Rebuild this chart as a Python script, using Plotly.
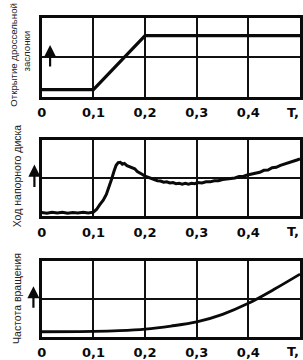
import plotly.graph_objects as go

# ---- data ----
tick_vals = [0, 0.1, 0.2, 0.3, 0.4]
tick_text = ["0", "0,1", "0,2", "0,3", "0,4"]
time_unit_label = "T,"

throttle_t = [0.0, 0.1, 0.2, 0.5]
throttle_y = [0.18, 0.18, 1.55, 1.55]

disk_t = [0.000, 0.010, 0.020, 0.030, 0.040, 0.050, 0.060, 0.070, 0.080, 0.090, 0.100,
          0.106, 0.112, 0.119, 0.125, 0.130, 0.135, 0.140, 0.144, 0.148, 0.152, 0.156,
          0.160, 0.165, 0.170, 0.175, 0.180, 0.185, 0.190, 0.195, 0.200, 0.206, 0.212,
          0.218, 0.224, 0.230, 0.236, 0.242, 0.248, 0.254, 0.260, 0.266, 0.272, 0.278,
          0.284, 0.290, 0.296, 0.302, 0.310, 0.318, 0.326, 0.334, 0.342, 0.350, 0.358,
          0.366, 0.374, 0.382, 0.390, 0.398, 0.406, 0.414, 0.422, 0.430, 0.438, 0.446,
          0.454, 0.462, 0.470, 0.478, 0.486, 0.494, 0.500]
disk_y = [0.10, 0.08, 0.11, 0.09, 0.11, 0.08, 0.10, 0.09, 0.11, 0.09, 0.11,
          0.18, 0.30, 0.42, 0.57, 0.75, 0.96, 1.18, 1.33, 1.40, 1.41, 1.36,
          1.38, 1.32, 1.30, 1.26, 1.24, 1.17, 1.14, 1.09, 1.05, 1.02, 0.98,
          0.97, 0.93, 0.92, 0.89, 0.90, 0.87, 0.88, 0.85, 0.86, 0.84, 0.86,
          0.84, 0.86, 0.85, 0.88, 0.87, 0.90, 0.90, 0.93, 0.93, 0.96, 0.97,
          0.99, 1.00, 1.04, 1.04, 1.08, 1.10, 1.14, 1.15, 1.20, 1.21, 1.27,
          1.28, 1.33, 1.36, 1.40, 1.42, 1.47, 1.50]

speed_t = [0.0, 0.1, 0.15, 0.2, 0.25, 0.3, 0.35, 0.4, 0.45, 0.5]
speed_y = [0.14, 0.15, 0.17, 0.21, 0.29, 0.40, 0.60, 0.89, 1.26, 1.66]

titles = [["Открытие дроссельной", "заслонки"], ["Ход напорного диска"], ["Частота вращения"]]

# ---- layout geometry ----
W, H = 303, 360
x_dom = [37.5 / W, 301 / W]
panels_px = [(18, 97), (140, 217), (262, 338)]
y_doms = [[1 - b / H, 1 - t / H] for t, b in panels_px]

fig = go.Figure()
series = [(throttle_t, throttle_y, "linear", 3.2),
          (disk_t, disk_y, "linear", 3.0),
          (speed_t, speed_y, "spline", 2.8)]
for i, (tx, ty, shp, lw) in enumerate(series):
    sfx = "" if i == 0 else str(i + 1)
    fig.add_trace(go.Scatter(x=tx, y=ty, mode="lines",
                             line=dict(color="#0a0a0a", width=lw, shape=shp),
                             xaxis="x" + sfx, yaxis="y" + sfx, showlegend=False))

tick_font = dict(family="DejaVu Sans", size=13, color="#0a0a0a", weight="bold")
title_sizes = [9.6, 10.5, 10.5]

for i in range(3):
    sfx = "" if i == 0 else str(i + 1)
    fig.layout["xaxis" + sfx] = dict(
        domain=x_dom, range=[0, 0.5], anchor="y" + sfx,
        tickvals=tick_vals, ticktext=tick_text, tickfont=tick_font,
        showgrid=True, gridcolor="#111", gridwidth=1.6,
        showline=True, linecolor="#0a0a0a", linewidth=2.6, mirror=True,
        ticks="", zeroline=False, ticklabelstandoff=2, fixedrange=True)
    fig.layout["yaxis" + sfx] = dict(
        domain=y_doms[i], range=[0, 2], anchor="x" + sfx,
        tickvals=[1], showticklabels=False,
        showgrid=True, gridcolor="#111", gridwidth=1.6,
        showline=True, linecolor="#0a0a0a", linewidth=2.6, mirror=True,
        ticks="", zeroline=False, fixedrange=True)

annotations = []
# "T," label at right end of each axis
label_y_px = [113, 232, 352]
for i in range(3):
    annotations.append(dict(text=time_unit_label, x=302 / W, y=1 - label_y_px[i] / H,
                            xref="paper", yref="paper", xanchor="right", yanchor="middle",
                            showarrow=False, font=tick_font))

# axis titles (rotated)
title_pos = [[(9, 55), (22, 52)], [(12, 176)], [(12, 299)]]
for k, (lines, poss) in enumerate(zip(titles, title_pos)):
    for txt, (px, py) in zip(lines, poss):
        annotations.append(dict(text=txt, x=px / W, y=1 - py / H, xref="paper", yref="paper",
                                xanchor="center", yanchor="middle", textangle=-90,
                                showarrow=False,
                                font=dict(family="Liberation Sans, Arial", size=title_sizes[k],
                                          color="#222")))

# upward arrows
arrows = [(46, 45, 68), (30, 165, 189), (29, 287, 310)]
for ax_px, tip, tail in arrows:
    annotations.append(dict(text="", x=ax_px / W, y=1 - tip / H, xref="paper", yref="paper",
                            ax=0, ay=tail - tip, axref="pixel", ayref="pixel",
                            showarrow=True, arrowhead=2, arrowsize=1.1, arrowwidth=2.2,
                            arrowcolor="#0a0a0a"))

fig.update_layout(width=W, height=H, margin=dict(l=0, r=0, t=0, b=0),
                  paper_bgcolor="white", plot_bgcolor="white",
                  annotations=annotations, showlegend=False)

fig.write_html("out.html", config={"displayModeBar": False})
